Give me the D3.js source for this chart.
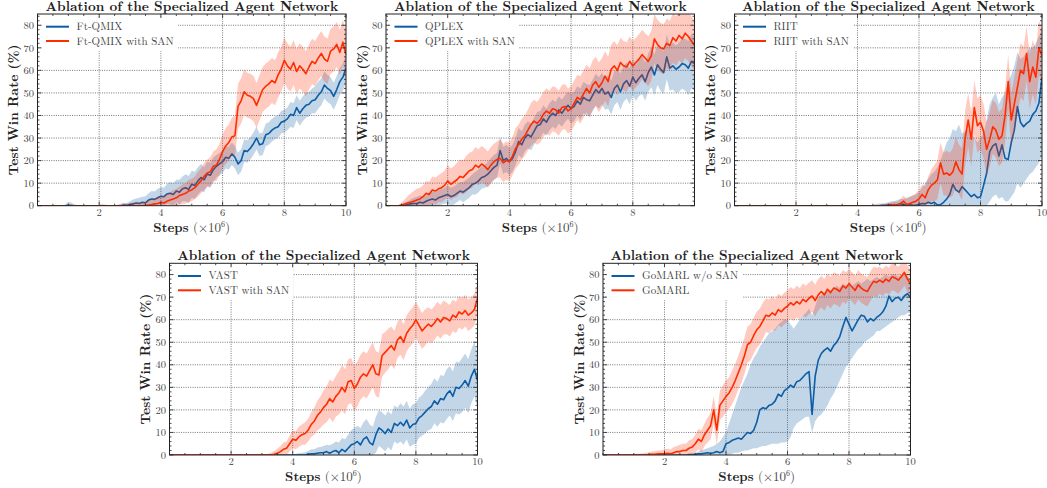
<!DOCTYPE html>
<html><head><meta charset="utf-8">
<script src="https://cdn.jsdelivr.net/npm/d3@7"></script>
<style>body{margin:0;background:#fff} svg{display:block}</style>
</head><body>
<svg id="c" width="1047" height="488"></svg>
<script>
// ---- shared axis values ----
const steps = d3.range(101).map(i => i / 10);   // x in units of 1e6 steps, 0.0 ... 10.0
const xTicksFull = [2, 4, 6, 8, 10];
const xTicksNoEnd = [2, 4, 6, 8];
const yTicks = [0, 10, 20, 30, 40, 50, 60, 70, 80];
const titleText = "Ablation of the Specialized Agent Network";
const yLabelText = "Test Win Rate (%)";

// ---- Panel 1: Ft-QMIX ----
const ftqmixMean = [0,0,0,0,0,0,0,0,0,0, 0.2,0.1,0,0,0,0,0,0,0,0, 0,0,0,0,0,0,0,0,0.3,0.2,
 0.5,0.8,1.2,1.0,1.5,1.2,2.5,3.0,2.8,3.5, 4.2,4.0,5.2,5.5,5.0,6.5,6.0,7.5,8.0,7.2,
 9.5,9.0,11.0,12.5,11.5,14.0,13.5,16.0,17.5,18.5, 19.5,21.5,21.0,23.0,21.5,18.5,20.0,24.5,24.0,25.5,
 27.5,30.0,27.0,27.5,31.5,32.0,33.5,34.5,35.0,37.0, 37.5,38.5,40.5,40.0,43.5,41.0,43.0,44.5,45.0,46.5,
 47.0,49.0,50.5,53.5,52.0,51.0,48.5,51.5,55.0,57.0, 61.0];
const ftqmixSpread = [0,0,0,0,0,0,0,0,0,0.5, 1.5,1.2,0.5,0.3,0,0,0,0,0,0, 0.3,0.5,0.3,0,0,0,0,0.5,1.0,1.0,
 1.5,2,2,2.5,2.5,3,3,3.5,3.5,4, 4,4,4.5,5,5,5,5.5,5.5,6,6,
 6,6,6,6,5.5,5.5,5.5,5.5,5,5, 5,5,5,5,5,5,5,5,5,5,
 5,5,5,5,5,5,5,5,5,5, 5,5,5.5,5.5,5.5,5.5,5.5,5.5,5.5,5.5,
 6,6,6,6,6,6,6,6,6,6, 6];
const ftqmixSanMean = [0,0,0,0,0,0,0,0,0,0, 0,0,0,0,0,0,0,0,0,0, 0,0,0,0,0,0,0,0,0,0,
 0,0,0,0,0,0.2,0.3,0.5,0.8,1.0, 1.5,1.2,2.0,2.5,3.0,3.5,4.5,5.0,5.5,6.5,
 7.0,8.0,9.5,11.0,13.0,14.5,15.0,17.5,18.0,20.5, 24.0,26.5,28.0,30.5,31.0,44.0,46.5,50.5,49.0,48.5,
 47.5,44.5,48.0,51.5,53.0,54.0,55.5,54.5,58.0,60.5, 64.5,62.0,60.5,63.5,59.5,62.0,60.5,58.5,61.5,64.0,
 63.0,65.5,67.5,65.0,64.0,68.5,69.5,71.5,68.0,72.5, 67.0];
const ftqmixSanSpread = [0,0,0,0,0,0,0,0,0,0, 0.5,0.5,0,0,0,0,0,0,0,0, 0.5,0.5,0.5,0,0,0,0.5,1,1,1,
 1,1.5,1.5,1.5,1.5,2,2,2.5,2.5,3, 3,3,3.5,3.5,4,4,4,4.5,4.5,5,
 5,5,5.5,5.5,6,6,6.5,6.5,7,7, 7.5,8,8,8.5,9,10,10,10,10,10,
 10,10,10,10,10,10,10,10,10,10, 10,10,10,10,10,10,10,10,10,10,
 10,10,10,10,10,10,10,10,10,10, 10];

// ---- Panel 2: QPLEX ----
const qplexMean = [0,0,0,0,0,0,0.2,0.5,0.8,1.0, 1.0,1.5,1.2,2.0,2.5,3.0,2.5,3.5,4.0,4.5,
 5.0,4.0,4.5,5.5,6.5,6.0,7.0,8.0,9.5,10.0, 11.0,12.5,13.0,14.0,15.5,17.0,18.0,24.5,20.0,21.0,
 19.5,21.0,24.0,28.5,27.0,30.0,31.5,30.5,33.0,35.5, 36.0,38.5,37.0,39.5,41.0,40.0,42.5,41.0,43.0,44.5,
 43.0,44.0,46.5,45.0,48.0,47.0,46.5,49.0,51.5,50.0, 52.0,49.5,50.5,48.0,52.0,53.5,50.5,54.0,55.5,53.0,
 57.0,54.5,56.5,58.0,55.0,59.0,61.5,58.0,62.5,60.5, 59.0,66.0,61.0,62.0,60.5,61.5,63.0,62.5,61.0,64.0, 63.0];
const qplexSpread = [0,0,0,0,0,0.5,1,1.5,2,2.5, 3,3,3,3,3.5,3.5,3.5,3.5,3.5,3.5,
 4,4,4,4,4,4.5,4.5,4.5,4.5,5, 5,5,5,5.5,5.5,5.5,5.5,6,6,6,
 6,6,6,6,6,6,6,6,6,6, 6,6,6,6,6,6,6,6,6,6,
 6.5,6.5,6.5,7,7,7,7,7,7,7, 7,7,7.5,7.5,7.5,7.5,8,8,8,8,
 8,8,8,8.5,8.5,8.5,9,9,9,9.5, 9.5,10,10,10.5,10.5,11,11,11.5,12,12, 12];
const qplexSanMean = [0,0,0,0,0,0.3,0.8,1.2,1.5,2.0, 2.5,3.0,4.0,5.5,5.0,7.0,6.5,7.5,8.0,9.0,
 11.0,9.5,10.5,11.5,13.0,12.5,14.0,15.5,16.0,18.0, 17.0,18.5,17.5,16.0,18.0,19.5,20.5,21.0,19.0,20.0,
 19.5,22.0,25.5,27.0,29.5,31.0,33.5,36.0,37.5,36.5, 38.0,40.5,42.0,41.0,43.0,42.5,41.0,43.5,44.0,42.0,
 43.0,45.5,48.0,47.0,49.5,52.0,50.0,53.5,55.0,52.5, 54.5,57.5,55.0,60.5,62.0,60.0,63.5,62.0,61.5,64.0,
 62.0,63.5,65.0,67.0,65.5,64.0,66.5,74.0,71.5,70.0, 69.5,72.0,71.0,74.5,73.0,75.5,74.0,76.5,75.0,73.0, 71.0];
const qplexSanSpread = [0,0,0,0,0,1,2,3,4,4.5, 5,5,5,5.5,5.5,6,6,6,6.5,6.5,
 7,7,7,7.5,7.5,7.5,8,8,8,8, 8,8,8,8,8,8,8,8.5,8.5,8.5,
 8.5,8.5,9,9,9,9,9,9.5,9.5,9.5, 10,10,10,10,10,10,10,10,10,10,
 10,10,10,10.5,10.5,10.5,11,11,11,11, 11,11,11,11,11,11,11,11,11,11,
 11,11,11,11,11,11,11,11,11,11, 11,11,11,11,11,11,11,11,11,11, 11];

// ---- Panel 3: RIIT ----
const riitMean = [0,0,0,0,0,0,0,0,0,0, 0,0,0,0,0,0,0,0,0,0, 0,0,0,0,0,0,0,0,0,0,
 0,0,0,0,0,0,0,0,0,0, 0,0,0,0,0,0,0,0,0.2,0.2,
 0.3,0.5,0.2,0.5,0.8,0.5,0.3,0.5,0.2,0.3, 0.5,1.0,0.8,1.5,1.0,1.5,0.3,0.5,1.5,3.0,
 5.0,9.5,7.0,6.0,8.5,7.0,5.5,4.0,5.0,3.5, 4.0,9.0,14.5,24.0,26.5,27.5,22.0,27.0,21.0,20.5,
 28.0,33.5,44.0,37.0,35.0,36.5,37.5,40.5,42.0,45.5, 57.0];
const riitLower = [0,0,0,0,0,0,0,0,0,0, 0,0,0,0,0,0,0,0,0,0, 0,0,0,0,0,0,0,0,0,0,
 0,0,0,0,0,0,0,0,0,0, 0,0,0,0,0,0,0,0,0,0,
 0,0,0,0,0,0,0,0,0,0, 0,0,0,0,0,0,0,0,0,0,
 0,0,0,0,0,0,0,0,0,0, 0,0,0,2,4,5,3,4,2,2,
 4,6,10,8,10,12,14,15,17,19, 22];
const riitUpper = [0,0,0,0,0,0,0,0,0,0, 0,0,0,0,0,0,0,0,0,0, 0,0,0,0,0,0,0,0,0,0,
 0,0,0,0,0,0,0,0,0,0, 0,0,0,0,0,0.5,0.8,1,1,1.2,
 1.5,2,2,2.5,3,3,3.5,4,4.5,5, 6,8,10,12,14,15,17,20,24,28,
 30,34,33,36,32,33,34,32,30,28, 30,32,38,45,48,50,45,48,50,55,
 58,62,68,65,66,68,70,70,72,75, 78];
const riitSanMean = [0,0,0,0,0,0,0,0,0,0, 0,0,0,0,0,0,0,0,0,0, 0,0,0,0,0,0,0,0,0,0,
 0,0,0,0,0,0,0,0,0,0, 0,0,0,0,0,0,0,0,0,0,
 0.2,0.3,0.5,0.2,1.0,2.0,0.5,1.0,1.5,2.0, 3.0,5.0,3.5,7.0,9.0,10.0,11.5,19.0,14.0,14.5,
 13.5,15.0,19.5,16.0,14.0,30.0,38.0,29.5,43.5,35.5, 37.0,33.0,25.0,29.5,35.0,33.5,29.5,31.0,40.0,55.0,
 38.0,45.0,52.5,60.0,58.5,67.5,55.0,61.5,57.0,70.0, 66.5];
const riitSanSpread = [0,0,0,0,0,0,0,0,0,0, 0,0,0,0,0,0,0,0,0,0, 0,0,0,0,0,0,0,0,0,0,
 0,0,0,0,0,0,0,0,0,0, 0,0,0,0,0,0,0,0,0.5,0.5,
 1,1,1.5,1.5,2,2.5,2.5,3,3,3.5, 4,4.5,5,6,7,8,8.5,9,9.5,10,
 10,10.5,11,11,11.5,12,12,12,12,12, 12,12,12,12,12,12,12,12,12,12,
 12,12,12,12,12,12,12,12,12,12, 12];

// ---- Panel 4: VAST ----
const vastMean = [0,0,0,0,0,0,0,0,0,0, 0,0,0,0,0,0,0,0,0,0, 0,0,0,0,0,0,0,0,0,0,
 0,0,0,0,0,0,0,0,0,0, 0,0,0,0,0,0.3,0.5,0.5,0.8,1.0,
 1.0,1.5,0.8,1.5,2.0,1.0,2.5,1.5,3.0,4.5, 5.0,6.0,4.5,7.0,8.0,5.5,4.5,9.0,12.0,11.0,
 9.5,11.5,10.0,14.0,13.0,14.5,13.0,15.5,12.0,13.5, 14.0,16.5,17.5,19.0,20.5,21.5,24.0,22.5,25.0,24.5,
 27.0,28.5,26.0,30.0,29.5,31.0,33.0,30.5,35.0,38.0, 33.0];
const vastSpread = [0,0,0,0,0,0,0,0,0,0, 0,0,0,0,0,0,0,0,0,0, 0,0,0,0,0,0,0,0,0,0,
 0,0,0,0,0,0,0,0,0,0, 0.3,0.5,0.8,1,1.2,1.5,2,2,2.5,2.5,
 3,3,3.5,3.5,4,4.5,5,5.5,6,6.5, 7,7,7.5,7.5,8,8,8,8,8,8,
 8,8,8,8,8,8.5,8.5,8.5,8.5,9, 9,9,9,9.5,9.5,10,10,10,10.5,10.5,
 11,11,11,11.5,11.5,12,12,12,12,12, 12];
const vastSanMean = [0,0,0,0,0,0,0,0,0,0, 0,0,0,0,0,0,0,0,0,0, 0,0,0,0,0,0,0,0,0,0,
 0,0,0,0,0.3,0.8,1.5,2.5,3.0,5.0, 7.0,6.5,8.0,9.0,9.5,11.0,13.5,15.0,17.5,19.0,
 21.0,22.5,25.0,23.5,26.0,27.5,30.0,28.0,32.5,33.0, 29.5,31.5,34.5,36.0,35.0,37.5,40.0,36.0,35.5,44.0,
 45.5,47.0,48.5,46.5,51.0,52.5,50.0,54.0,56.0,57.5, 60.0,57.5,55.0,56.5,58.0,57.0,58.5,60.5,59.0,61.0,
 60.5,59.5,62.0,61.0,63.5,62.5,64.0,62.0,63.0,64.5, 69.5];
const vastSanSpread = [0,0,0,0,0,0,0,0,0,0, 0,0,0,0,0,0,0,0,0,0, 0,0,0,0,0,0,0,0,0,0,
 0,0,0.5,1,1.5,2,2.5,3,3,3.5, 4,4,4.5,4.5,5,5,5.5,6,6.5,7,
 7.5,8,8.5,9,9,9.5,10,10,10,10, 10,10,10,10,10,10,10,10,10,9.5,
 9,9,8.5,8.5,8,8,8,8,8,8, 8,8,8,8,7.5,7.5,7.5,7.5,7.5,7.5,
 7,7,7,7,7,7,7,7,7,7, 7];

// ---- Panel 5: GoMARL ----
const gomarlNoSanMean = [0,0,0,0,0,0,0,0,0,0, 0,0,0,0,0,0,0,0,0,0, 0,0,0,0,0,0,0,0,0.2,0.2,
 0.3,0.5,0.5,0.8,1.0,0.8,1.0,1.5,1.0,1.5, 5.0,5.5,6.5,7.0,7.5,7.0,8.5,10.0,9.5,11.0,
 14.5,20.0,21.0,20.5,22.0,22.5,24.0,27.0,26.0,28.5, 29.5,31.0,30.0,32.5,33.0,34.5,36.0,37.0,18.0,35.0,
 42.0,45.0,46.5,47.5,46.0,48.5,50.0,52.5,57.0,61.0, 58.0,55.0,57.5,60.0,62.0,61.5,59.0,60.5,59.5,61.0,
 62.0,63.5,66.0,70.5,68.0,69.5,70.0,68.5,70.5,71.5, 70.0];
const gomarlNoSanLower = [0,0,0,0,0,0,0,0,0,0, 0,0,0,0,0,0,0,0,0,0, 0,0,0,0,0,0,0,0,0,0,
 0,0,0,0,0,0,0,0,0,0, 0,0,0.5,1,1,1.5,2,2,2.5,3,
 3,3.5,4,4,4.5,5,5,5,5.5,5.5, 6,8,12,14,15,16,17,17,10,15,
 17,18,20,22,25,27,30,33,36,39, 41,43,45,47,48,50,51,52,53,55,
 55,56,57,58,59,60,61,62,62,63, 63];
const gomarlNoSanUpper = [0,0,0,0,0,0,0,0,0,0, 0,0,0,0,0,0,0,0,0,0, 0,0,0,0,0,0,0,0,0.5,0.5,
 1,1.5,2,2.5,3,3.5,4,5,6,8, 10,14,18,22,26,30,33,36,40,43,
 45,48,50,52,54,55,56,58,59,60, 60,58,56,58,60,62,63,65,62,66,
 70,71,72,73,73,74,75,74,76,75, 76,75,76,77,76,77,78,77,78,79,
 78,79,80,79,80,80,79,80,80,79, 78];
const gomarlMean = [0,0,0,0,0,0,0,0,0,0, 0,0,0,0,0,0.2,0.3,0.3,0.5,0.5,
 0.5,0.8,0.5,1.0,1.5,1.5,2.0,2.0,3.0,3.5, 5.0,7.0,6.0,9.0,11.0,13.0,20.0,11.0,22.0,24.0,
 26.0,27.5,30.0,33.0,36.5,40.0,44.0,49.0,50.0,53.0, 55.5,57.0,59.5,62.0,61.5,63.0,62.0,64.5,63.5,65.0,
 66.0,67.5,66.5,68.0,67.0,69.0,68.0,69.5,70.5,68.5, 71.0,72.5,71.0,73.5,72.0,74.0,73.5,72.5,75.0,74.0,
 76.0,74.5,73.0,75.5,74.0,73.0,72.5,75.0,77.0,76.5, 77.5,76.5,78.0,77.0,79.0,78.5,77.5,79.0,81.0,78.0, 76.0];
const gomarlSpread = [0,0,0,0,0,0,0,0,0,0, 0.5,0.5,0.5,0.8,1,1,1.2,1.5,1.5,1.5,
 2,2,2,2.5,2.5,3,3,3,3.5,3.5, 4,4.5,5,5,5.5,6,6,6.5,6.5,7,
 7,7,7.5,7.5,7.5,8,8,8,8,8, 8,8,8,7.5,7.5,7.5,7,7,7,7,
 7,7,7,7,7,7,7,7,7,7, 7,7,7,7,7,7,7,7,7,7,
 6.5,6.5,6.5,6.5,6.5,6.5,6.5,6.5,6.5,6.5, 6,6,6,6,6,6,6,6,6,6, 6];

// ---- Style constants ----
const BLUE = "#0C5DA5", RED = "#FF2C00";
const SERIF = "'CMU Serif','Latin Modern Roman','Liberation Serif','DejaVu Serif',serif";

// series: {mean, spread} (symmetric band) or {mean, lower, upper}
const panels = [
  {left: 37.5, top: 14, w: 308.5, h: 191.7, xTicks: xTicksFull,
   names: ["Ft-QMIX", "Ft-QMIX with SAN"],
   series: [{mean: ftqmixMean, spread: ftqmixSpread, col: BLUE},
            {mean: ftqmixSanMean, spread: ftqmixSanSpread, col: RED}]},
  {left: 386, top: 14, w: 308.5, h: 191.7, xTicks: xTicksNoEnd,
   names: ["QPLEX", "QPLEX with SAN"],
   series: [{mean: qplexMean, spread: qplexSpread, col: BLUE},
            {mean: qplexSanMean, spread: qplexSanSpread, col: RED}]},
  {left: 734.5, top: 14, w: 307.5, h: 191.7, xTicks: xTicksFull,
   names: ["RIIT", "RIIT with SAN"],
   series: [{mean: riitMean, lower: riitLower, upper: riitUpper, col: BLUE},
            {mean: riitSanMean, spread: riitSanSpread, col: RED}]},
  {left: 169.5, top: 263.3, w: 308, h: 191.7, xTicks: xTicksFull,
   names: ["VAST", "VAST with SAN"],
   series: [{mean: vastMean, spread: vastSpread, col: BLUE},
            {mean: vastSanMean, spread: vastSanSpread, col: RED}]},
  {left: 603, top: 263.3, w: 307.5, h: 191.7, xTicks: xTicksFull,
   names: ["GoMARL w/o SAN", "GoMARL"],
   series: [{mean: gomarlNoSanMean, lower: gomarlNoSanLower, upper: gomarlNoSanUpper, col: BLUE},
            {mean: gomarlMean, spread: gomarlSpread, col: RED}]}
];

const svg = d3.select("#c");

panels.forEach((p, pi) => {
  const g = svg.append("g").attr("transform", `translate(${p.left},${p.top})`);
  const x = d3.scaleLinear().domain([0, 10]).range([0, p.w]);
  const y = d3.scaleLinear().domain([0, 85]).range([p.h, 0]);

  const clipId = "clip" + pi;
  g.append("clipPath").attr("id", clipId).append("rect")
    .attr("width", p.w).attr("height", p.h);

  // grid
  const grid = g.append("g").attr("stroke", "#555").attr("stroke-width", 0.8)
    .attr("stroke-dasharray", "1,1.3");
  p.xTicks.filter(t => t < 10).forEach(t => {
    grid.append("line").attr("x1", x(t)).attr("x2", x(t)).attr("y1", 0).attr("y2", p.h);
  });
  yTicks.filter(t => t > 0).forEach(t => {
    grid.append("line").attr("x1", 0).attr("x2", p.w).attr("y1", y(t)).attr("y2", y(t));
  });

  // legend background (white box hides grid under the legend)
  const legBg = g.append("rect").attr("x", 3).attr("y", 3).attr("height", 34)
    .attr("fill", "#fff").attr("rx", 2);

  // data
  const plot = g.append("g").attr("clip-path", `url(#${clipId})`);
  p.series.forEach(s => {
    const pts = steps.map((st, i) => {
      const lo = s.lower ? s.lower[i] : Math.max(0, s.mean[i] - s.spread[i]);
      const hi = s.upper ? s.upper[i] : s.mean[i] + s.spread[i];
      return {st, m: s.mean[i], lo, hi};
    });
    const area = d3.area().x(d => x(d.st)).y0(d => y(d.lo)).y1(d => y(d.hi));
    const line = d3.line().x(d => x(d.st)).y(d => y(d.m));
    plot.append("path").attr("d", area(pts)).attr("fill", s.col).attr("fill-opacity", 0.25);
    plot.append("path").attr("d", line(pts)).attr("fill", "none").attr("stroke", s.col)
      .attr("stroke-width", 1.6).attr("stroke-linejoin", "round");
  });

  // axes (inward ticks on all sides)
  const xMinor = d3.range(0, 10.001, 0.5).filter(v => !p.xTicks.includes(v));
  const yMinor = d3.range(0, 85, 2).filter(v => v % 10 !== 0);
  const tk = g.append("g").attr("stroke", "#222").attr("stroke-width", 0.8);
  p.xTicks.forEach(t => {
    tk.append("line").attr("x1", x(t)).attr("x2", x(t)).attr("y1", p.h).attr("y2", p.h - 4);
    tk.append("line").attr("x1", x(t)).attr("x2", x(t)).attr("y1", 0).attr("y2", 4);
  });
  xMinor.forEach(t => {
    tk.append("line").attr("x1", x(t)).attr("x2", x(t)).attr("y1", p.h).attr("y2", p.h - 2);
    tk.append("line").attr("x1", x(t)).attr("x2", x(t)).attr("y1", 0).attr("y2", 2);
  });
  yTicks.forEach(t => {
    tk.append("line").attr("x1", 0).attr("x2", 4).attr("y1", y(t)).attr("y2", y(t));
    tk.append("line").attr("x1", p.w).attr("x2", p.w - 4).attr("y1", y(t)).attr("y2", y(t));
  });
  yMinor.forEach(t => {
    tk.append("line").attr("x1", 0).attr("x2", 2).attr("y1", y(t)).attr("y2", y(t));
    tk.append("line").attr("x1", p.w).attr("x2", p.w - 2).attr("y1", y(t)).attr("y2", y(t));
  });
  g.append("rect").attr("width", p.w).attr("height", p.h).attr("fill", "none")
    .attr("stroke", "#222").attr("stroke-width", 1);

  // tick labels
  const tl = g.append("g").attr("font-family", SERIF).attr("font-size", 10.5).attr("fill", "#444");
  p.xTicks.forEach(t => {
    tl.append("text").attr("x", x(t)).attr("y", p.h + 10.3).attr("text-anchor", "middle").text(t);
  });
  yTicks.forEach(t => {
    tl.append("text").attr("x", -3.5).attr("y", y(t) + 3.7).attr("text-anchor", "end").text(t);
  });

  // title
  g.append("text").attr("x", p.w / 2).attr("y", -3.3).attr("text-anchor", "middle")
    .attr("font-family", SERIF).attr("font-weight", "bold").attr("font-size", 13.5)
    .attr("fill", "#222").text(titleText);

  // x label
  const xl = g.append("text").attr("x", p.w / 2).attr("y", p.h + 26).attr("text-anchor", "middle")
    .attr("font-family", SERIF).attr("font-size", 13).attr("fill", "#222");
  xl.append("tspan").attr("font-weight", "bold").text("Steps");
  xl.append("tspan").attr("fill", "#444").text(" (×10");
  xl.append("tspan").attr("fill", "#444").attr("font-size", 8).attr("dy", -4.5).text("6");
  xl.append("tspan").attr("fill", "#444").attr("dy", 4.5).text(")");

  // y label
  g.append("text").attr("transform", `translate(-19.5,${p.h / 2}) rotate(-90)`)
    .attr("text-anchor", "middle").attr("font-family", SERIF).attr("font-weight", "bold")
    .attr("font-size", 13.5).attr("fill", "#222").text(yLabelText);

  // legend
  const lg = g.append("g");
  let maxW = 0;
  p.names.forEach((n, i) => {
    const ly = 12.7 + i * 14.3;
    lg.append("line").attr("x1", 8.5).attr("x2", 31.5).attr("y1", ly).attr("y2", ly)
      .attr("stroke", p.series[i].col).attr("stroke-width", 2);
    const t = lg.append("text").attr("x", 39).attr("y", ly + 3.5).attr("font-family", SERIF)
      .attr("font-size", 11).attr("fill", "#444").text(n);
    maxW = Math.max(maxW, t.node().getComputedTextLength());
  });
  legBg.attr("width", 39 + maxW + 4 - 3);
});
</script>
</body></html>
